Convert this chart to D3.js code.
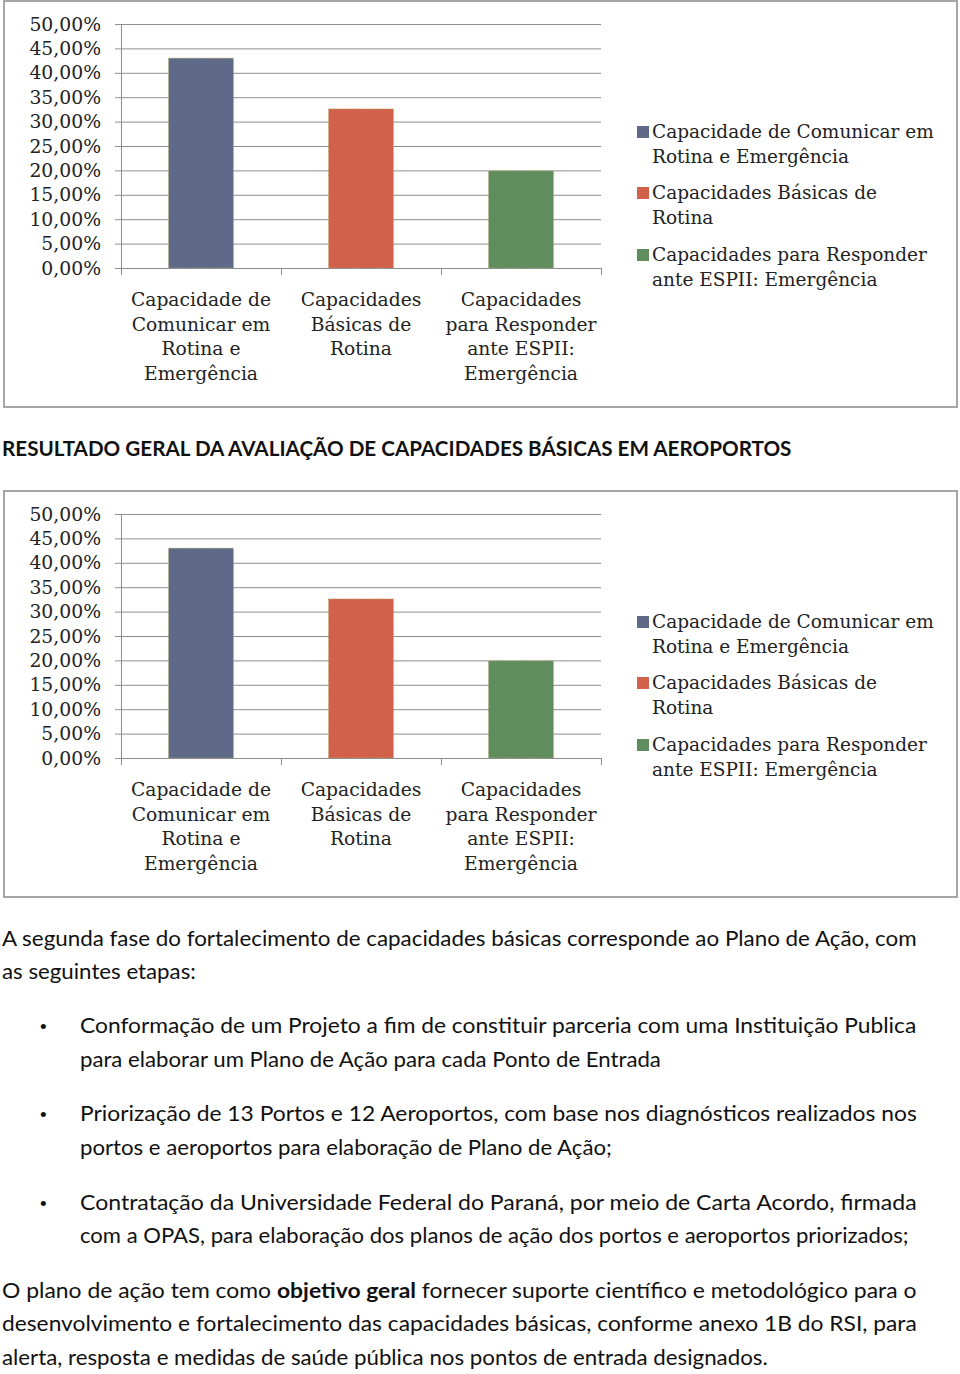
<!DOCTYPE html>
<html>
<head>
<meta charset="utf-8">
<script src="https://cdn.jsdelivr.net/npm/d3@7"></script>
<style>
  html, body { margin: 0; padding: 0; background: #ffffff; }
  svg { display: block; }
</style>
</head>
<body>
<svg id="page" width="960" height="1374"></svg>
<script>
// ---------- DATA ----------
const categories = [
  "Capacidade de Comunicar em Rotina e Emergência",
  "Capacidades Básicas de Rotina",
  "Capacidades para Responder ante ESPII: Emergência"
];
const categoryLabelLines = [
  ["Capacidade de", "Comunicar em", "Rotina e", "Emergência"],
  ["Capacidades", "Básicas de", "Rotina"],
  ["Capacidades", "para Responder", "ante ESPII:", "Emergência"]
];
const legendLabelLines = [
  ["Capacidade de Comunicar em", "Rotina e Emergência"],
  ["Capacidades Básicas de", "Rotina"],
  ["Capacidades para Responder", "ante ESPII: Emergência"]
];
const values = [0.43, 0.326, 0.199];
const yTickValues = [0, 0.05, 0.10, 0.15, 0.20, 0.25, 0.30, 0.35, 0.40, 0.45, 0.50];
const seriesColors = ["#5f6a88", "#d1614a", "#5f8d5d"];

const headingText = "RESULTADO GERAL DA AVALIAÇÃO DE CAPACIDADES BÁSICAS EM AEROPORTOS";
const paragraph1 = [
  "A segunda fase do fortalecimento de capacidades básicas corresponde ao Plano de Ação, com",
  "as seguintes etapas:"
];
const bullets = [
  ["Conformação de um Projeto a fim de constituir parceria com uma Instituição Publica",
   "para elaborar um Plano de Ação para cada Ponto de Entrada"],
  ["Priorização de 13 Portos e 12 Aeroportos, com base nos diagnósticos realizados nos",
   "portos e aeroportos para elaboração de Plano de Ação;"],
  ["Contratação da Universidade Federal do Paraná, por meio de Carta Acordo, firmada",
   "com a OPAS, para elaboração dos planos de ação dos portos e aeroportos priorizados;"]
];
const paragraph2 = [
  [["O plano de ação tem como ", false], ["objetivo geral", true], [" fornecer suporte científico e metodológico para o", false]],
  [["desenvolvimento e fortalecimento das capacidades básicas, conforme anexo 1B do RSI, para", false]],
  [["alerta, resposta e medidas de saúde pública nos pontos de entrada designados.", false]]
];

// ---------- LAYOUT ----------
const svg = d3.select("#page");
const serif = "'DejaVu Serif', serif";
const sans = "Lato, 'Open Sans', sans-serif";
const fmtLocale = d3.formatLocale({decimal: ",", thousands: ".", grouping: [3], currency: ["R$", ""]});
const pct = fmtLocale.format(".2%");

const plot = {left: 121, right: 601, top: 24, bottom: 268};

function drawChart(offsetY) {
  const g = svg.append("g").attr("transform", `translate(0,${offsetY})`);

  g.append("rect")
    .attr("x", 4).attr("y", 1).attr("width", 953).attr("height", 406)
    .attr("fill", "#fff").attr("stroke", "#a6a6a6").attr("stroke-width", 2);

  const y = d3.scaleLinear().domain([0, 0.5]).range([plot.bottom, plot.top]);
  const xFull = d3.scaleBand().domain(categories).range([plot.left, plot.right]).padding(0);
  const xBar = d3.scaleBand().domain(categories).range([plot.left, plot.right])
    .paddingInner(0.594).paddingOuter(0.297);

  // gridlines
  const grid = g.append("g").attr("transform", `translate(${plot.left},0)`)
    .call(d3.axisLeft(y).tickValues(yTickValues).tickSize(-(plot.right - plot.left)).tickFormat(""));
  grid.select(".domain").remove();
  grid.selectAll("line").attr("stroke", "#8e8e8e").attr("stroke-width", 1);

  // y axis
  const yAxis = g.append("g").attr("transform", `translate(${plot.left},0)`)
    .call(d3.axisLeft(y).tickValues(yTickValues).tickSize(6).tickSizeOuter(0).tickPadding(14).tickFormat(pct));
  yAxis.select(".domain").attr("stroke", "#8e8e8e");
  yAxis.selectAll("line").attr("stroke", "#8e8e8e");
  yAxis.selectAll("text")
    .attr("font-family", serif).attr("font-size", 18.8).attr("fill", "#222");

  // bars
  g.append("g").selectAll("rect").data(values).join("rect")
    .attr("x", (d, i) => xBar(categories[i]))
    .attr("y", d => y(d))
    .attr("width", xBar.bandwidth())
    .attr("height", d => y(0) - y(d))
    .attr("fill", (d, i) => seriesColors[i])
    .attr("stroke", "#b9a96a").attr("stroke-width", 0.8).attr("stroke-dasharray", "1.5,1.5");

  // x axis
  const xAxis = g.append("g");
  xAxis.append("line")
    .attr("x1", plot.left).attr("x2", plot.right)
    .attr("y1", y(0) + 0.5).attr("y2", y(0) + 0.5)
    .attr("stroke", "#8e8e8e");
  const boundaries = categories.map(c => xFull(c)).concat([plot.right]);
  xAxis.selectAll("line.tick").data(boundaries).join("line")
    .attr("class", "tick")
    .attr("x1", d => Math.round(d) + 0.5).attr("x2", d => Math.round(d) + 0.5)
    .attr("y1", y(0)).attr("y2", y(0) + 7)
    .attr("stroke", "#8e8e8e");

  // category labels
  const labels = g.append("g").selectAll("text").data(categoryLabelLines).join("text")
    .attr("font-family", serif).attr("font-size", 18.7).attr("fill", "#222")
    .attr("text-anchor", "middle")
    .attr("transform", (d, i) => `translate(${xFull(categories[i]) + xFull.bandwidth() / 2},306)`);
  labels.selectAll("tspan").data(d => d).join("tspan")
    .attr("x", 0).attr("y", (d, j) => j * 24.6)
    .text(d => d);

  // legend
  const legendTops = [138, 199, 261];
  const leg = g.append("g").selectAll("g").data(legendLabelLines).join("g")
    .attr("transform", (d, i) => `translate(0,${legendTops[i]})`);
  leg.append("rect")
    .attr("x", 637).attr("y", -12).attr("width", 12).attr("height", 12)
    .attr("fill", (d, i) => seriesColors[i]);
  leg.append("text")
    .attr("font-family", serif).attr("font-size", 18.5).attr("fill", "#222")
    .selectAll("tspan").data(d => d).join("tspan")
    .attr("x", 652).attr("y", (d, j) => j * 24.6)
    .text(d => d);
}

drawChart(0);
drawChart(490);

// ---------- TEXT ----------
const textG = svg.append("g").attr("font-family", sans).attr("font-size", 20.5).attr("fill", "#111");

function fitLine(sel, x, baseline, targetWidth) {
  const w = sel.node().getComputedTextLength();
  const s = targetWidth / w;
  sel.attr("transform", `translate(${x},${baseline}) scale(${s},1)`);
}

// heading
const head = textG.append("text").attr("font-weight", "bold").attr("font-size", 21).text(headingText);
fitLine(head, 2, 456, 790);

// paragraph 1
const p1Lines = [
  {x: 2, b: 946, w: 915},
  {x: 2, b: 979, w: 194}
];
paragraph1.forEach((t, i) => {
  const el = textG.append("text").text(t);
  fitLine(el, p1Lines[i].x, p1Lines[i].b, p1Lines[i].w);
});

// bullets
const bulletBase = [[1033, 1067], [1121, 1155], [1210, 1243]];
const bulletWidths = [[837, 581], [837, 532], [837, 829]];
bullets.forEach((lines, i) => {
  textG.append("text").attr("x", 40).attr("y", bulletBase[i][0]).attr("font-family", "Arial, sans-serif").attr("font-size", 19).text("•");
  lines.forEach((t, j) => {
    const el = textG.append("text").text(t);
    fitLine(el, 80, bulletBase[i][j], bulletWidths[i][j]);
  });
});

// paragraph 2
const p2Base = [1298, 1331, 1365];
const p2Widths = [915, 915, 766];
paragraph2.forEach((parts, i) => {
  const el = textG.append("text");
  el.selectAll("tspan").data(parts).join("tspan")
    .attr("font-weight", d => d[1] ? "bold" : "normal")
    .text(d => d[0]);
  fitLine(el, 2, p2Base[i], p2Widths[i]);
});
</script>
</body>
</html>
